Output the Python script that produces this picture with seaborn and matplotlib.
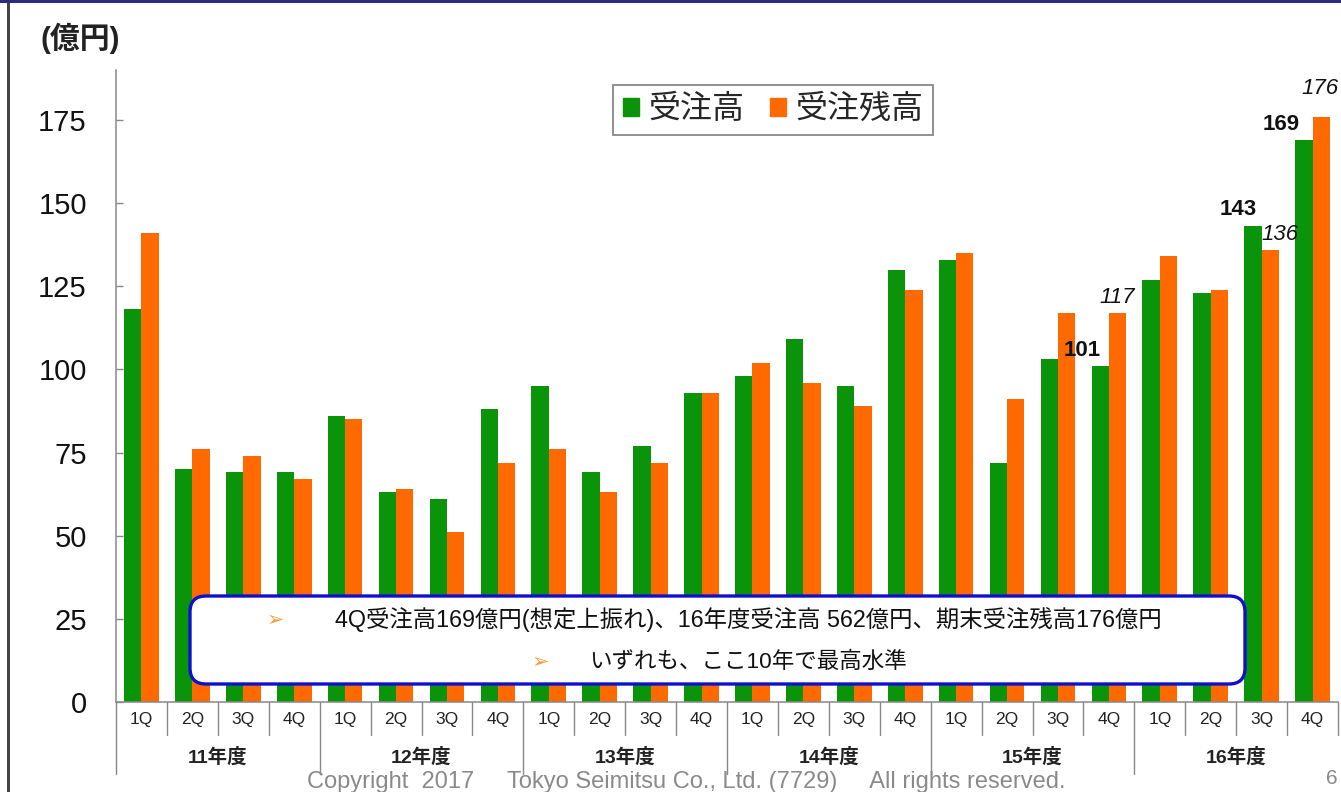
import matplotlib
matplotlib.use("Agg")
import matplotlib.pyplot as plt
import matplotlib.patches as mpatches
import matplotlib.transforms as mtransforms
import seaborn as sns
import pandas as pd

# ---------------- data ----------------
years = ["11年度", "12年度", "13年度", "14年度", "15年度", "16年度"]
quarters = ["1Q", "2Q", "3Q", "4Q"]
orders = [118, 70, 69, 69,
          86, 63, 61, 88,
          95, 69, 77, 93,
          98, 109, 95, 130,
          133, 72, 103, 101,
          127, 123, 143, 169]
backlog = [141, 76, 74, 67,
           85, 64, 51, 72,
           76, 63, 72, 93,
           102, 96, 89, 124,
           135, 91, 117, 117,
           134, 124, 136, 176]
series_names = ["受注高", "受注残高"]
yticks = [0, 25, 50, 75, 100, 125, 150, 175]
# labelled bars: (category index, series index)
labelled = [(19, 0), (19, 1), (22, 0), (22, 1), (23, 0), (23, 1)]
note_lines = ["4Q受注高169億円(想定上振れ)、16年度受注高 562億円、期末受注残高176億円",
              "いずれも、ここ10年で最高水準"]
copyright_text = "Copyright  2017     Tokyo Seimitsu Co., Ltd. (7729)     All rights reserved."

GREEN = "#0A940A"
ORANGE = "#FF6A00"

cats = [f"{y}{q}" for y in years for q in quarters]
df = pd.DataFrame({
    "cat": cats * 2,
    "series": [series_names[0]] * len(cats) + [series_names[1]] * len(cats),
    "value": orders + backlog,
})

sns.set_theme(style="white")
FAM = ["Liberation Sans", "Noto Sans CJK JP", "DejaVu Sans"]
plt.rcParams["font.family"] = FAM

W, H = 1341, 792
fig = plt.figure(figsize=(W / 100, H / 100), dpi=100)
fig.patch.set_facecolor("white")
ax = fig.add_axes([116 / W, (H - 702) / H, (1338 - 116) / W, (702 - 70) / H])

sns.barplot(data=df, x="cat", y="value", hue="series", order=cats,
            hue_order=series_names, palette=[GREEN, ORANGE], width=0.68,
            saturation=1, linewidth=0, ax=ax, legend=False, errorbar=None)

ax.set_xlim(-0.5, len(cats) - 0.5)
ax.set_ylim(0, 190)
ax.set_yticks(yticks)
ax.set_yticklabels([str(t) for t in yticks], fontsize=21, color="#111111")
ax.tick_params(axis="y", direction="in", length=5, width=1, color="#888888", pad=21, left=True)
ax.set_xticks(range(len(cats)))
ax.set_xticklabels(quarters * len(years), fontsize=12.5, color="#222222")
ax.tick_params(axis="x", length=0, pad=7)
ax.set_xlabel("")
ax.set_ylabel("")
for s in ["top", "right"]:
    ax.spines[s].set_visible(False)
for s in ["left", "bottom"]:
    ax.spines[s].set_color("#888888")
    ax.spines[s].set_linewidth(1.1)
ax.grid(False)

# category separators below axis
trans = mtransforms.blended_transform_factory(ax.transData, ax.transAxes)
ax_h = 702 - 70
short = -33 / ax_h
long_ = -72 / ax_h
for i in range(len(cats) + 1):
    x = i - 0.5
    y_end = long_ if i % 4 == 0 else short
    if i == len(cats):
        y_end = short
    ax.plot([x, x], [0, y_end], transform=trans, color="#888888", lw=1.0, clip_on=False)
for k, yname in enumerate(years):
    ax.text(4 * k + 1.5, -55 / ax_h, yname, transform=trans, ha="center", va="center",
            fontsize=14, fontweight="bold", color="#222222")

# value labels
bar_w = 0.34
specs = {
    (19, 0): (-13, 11, "bold"),
    (19, 1): (0, 11, "italic"),
    (22, 0): (-11, 12, "bold"),
    (22, 1): (7, 11, "italic"),
    (23, 0): (-16, 11, "bold"),
    (23, 1): (-1, 20, "italic"),
}
for (ci, si) in labelled:
    vals = orders if si == 0 else backlog
    v = vals[ci]
    xc = ci + (-bar_w / 2 if si == 0 else bar_w / 2)
    dx, dy, st = specs[(ci, si)]
    kw = {"fontweight": "bold"} if st == "bold" else {"fontstyle": "italic"}
    ax.annotate(str(v), xy=(xc, v), xytext=(dx, dy), textcoords="offset points",
                ha="center", va="center", fontsize=16, color="#111111", **kw)

# legend
handles = [mpatches.Patch(color=GREEN, label=series_names[0]),
           mpatches.Patch(color=ORANGE, label=series_names[1])]
leg = fig.legend(handles=handles, loc="upper left", bbox_to_anchor=(613 / W, 1 - 85 / H),
                 ncol=2, fontsize=23, frameon=True, fancybox=False, framealpha=1,
                 edgecolor="#888888", handlelength=0.5, handleheight=0.5,
                 handletextpad=0.3, columnspacing=0.8, borderpad=0.3, borderaxespad=0)
leg.get_frame().set_linewidth(1.3)

# unit label
fig.text(40 / W, 1 - 38 / H, "(億円)", ha="left", va="center", fontsize=21.5,
         fontweight="bold", color="#222222")

# annotation box
box = mpatches.FancyBboxPatch((190 / 100, (H - 684) / 100), (1245 - 190) / 100, (684 - 596) / 100,
                              boxstyle="round,pad=0,rounding_size=0.16",
                              transform=fig.dpi_scale_trans, facecolor="white",
                              edgecolor="#1010CC", linewidth=2.4, zorder=5)
fig.add_artist(box)
fig.text(748 / W, 1 - 620 / H, note_lines[0], ha="center", va="center", fontsize=16.8,
         color="#111111", zorder=6)
fig.text(748 / W, 1 - 662 / H, note_lines[1], ha="center", va="center", fontsize=16.2,
         color="#111111", zorder=6)
fig.text(275 / W, 1 - 620 / H, "➢", ha="center", va="center", fontsize=15,
         color="#F5A040", family=["DejaVu Sans"], zorder=6)
fig.text(540 / W, 1 - 662 / H, "➢", ha="center", va="center", fontsize=15,
         color="#F5A040", family=["DejaVu Sans"], zorder=6)

# footer
fig.text(686 / W, 1 - 782 / H, copyright_text, ha="center", va="center", fontsize=17,
         color="#8A8A8A")
fig.text(1332 / W, 1 - 778 / H, "6", ha="center", va="center", fontsize=15, color="#8A8A8A")

# frame decorations
fig.add_artist(mpatches.Rectangle((0, 1 - 3 / H), 1, 3 / H, transform=fig.transFigure,
                                  facecolor="#2B2B80", edgecolor="none", zorder=10))
fig.add_artist(mpatches.Rectangle((7 / W, 0), 2.5 / W, 1 - 3 / H, transform=fig.transFigure,
                                  facecolor="#444444", edgecolor="none", zorder=10))

fig.savefig("out.png", dpi=100)
